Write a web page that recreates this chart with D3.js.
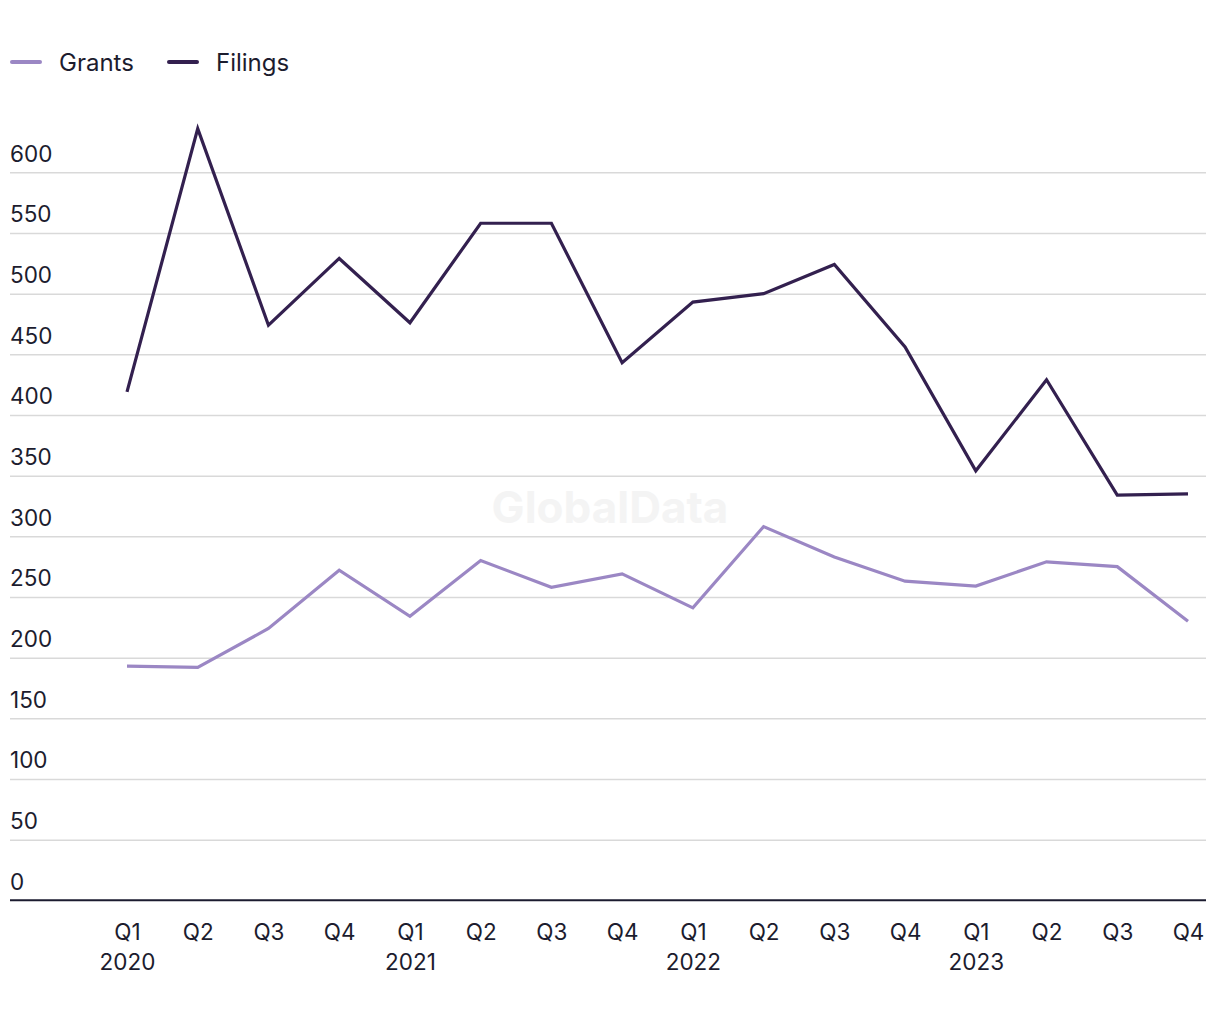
<!DOCTYPE html>
<html>
<head>
<meta charset="utf-8">
<script src="https://cdn.jsdelivr.net/npm/d3@7/dist/d3.min.js"></script>
<style>
  html, body { margin: 0; padding: 0; background: #ffffff; }
  svg { display: block; }
  text { font-family: Inter, "Noto Sans", "DejaVu Sans", sans-serif; }
</style>
</head>
<body>
<svg id="chart" width="1220" height="1020"></svg>
<script>
const quarters = ["Q1","Q2","Q3","Q4","Q1","Q2","Q3","Q4","Q1","Q2","Q3","Q4","Q1","Q2","Q3","Q4"];
const years    = ["2020","","","","2021","","","","2022","","","","2023","","",""];
const categories = quarters.map((q, i) => q + "-" + i);
const filings = [419, 636, 474, 529, 476, 558, 558, 443, 493, 500, 524, 456, 354, 429, 334, 335];
const grants  = [193, 192, 224, 272, 234, 280, 258, 269, 241, 308, 283, 263, 259, 279, 275, 230];
const yTicks = [0, 50, 100, 150, 200, 250, 300, 350, 400, 450, 500, 550, 600];
const seriesNames = ["Grants", "Filings"];
const seriesColors = ["#9b87c4", "#33204f"];

const svg = d3.select("#chart");
const textColor = "#1c1c2e";

const x = d3.scalePoint().domain(categories).range([127, 1188]);
const y = d3.scaleLinear().domain([0, 600]).range([900.3, 172.3]);

// watermark
svg.append("text")
  .attr("x", 610).attr("y", 523)
  .attr("text-anchor", "middle")
  .attr("font-size", 44).attr("font-weight", 700)
  .attr("fill", "#f4f4f4")
  .text("GlobalData");

// gridlines + y labels
const yAxis = d3.axisLeft(y).tickValues(yTicks).tickSize(0).tickFormat(d3.format("d"));
const gy = svg.append("g").call(yAxis);
gy.select(".domain").remove();
gy.selectAll(".tick text")
  .attr("x", 10).attr("dy", 0).attr("y", -11)
  .attr("text-anchor", "start")
  .attr("font-size", 22.5)
  .attr("fill", textColor);
gy.selectAll(".tick").filter(d => d !== 0).append("line")
  .attr("x1", 10).attr("x2", 1206)
  .attr("stroke", "#d9d9d9").attr("stroke-width", 1.5);

// baseline
svg.append("line")
  .attr("x1", 10).attr("x2", 1206)
  .attr("y1", y(0)).attr("y2", y(0))
  .attr("stroke", "#1b1b2f").attr("stroke-width", 2);

// x axis
const xAxis = d3.axisBottom(x).tickSize(0).tickFormat((d, i) => quarters[i]);
const gx = svg.append("g").attr("transform", `translate(0,${y(0)})`).call(xAxis);
gx.select(".domain").remove();
gx.selectAll(".tick text")
  .attr("y", 0).attr("dy", 0)
  .attr("font-size", 22.5)
  .attr("fill", textColor)
  .each(function(d, i) {
    const t = d3.select(this);
    t.text(null);
    t.append("tspan").attr("x", 0).attr("y", 40).text(quarters[i]);
    if (years[i]) t.append("tspan").attr("x", 0).attr("y", 70).text(years[i]);
  });

// lines
const line = d3.line().x((d, i) => x(categories[i])).y(d => y(d));
[grants, filings].forEach((s, k) => {
  svg.append("path")
    .datum(s)
    .attr("d", line)
    .attr("fill", "none")
    .attr("stroke", seriesColors[k])
    .attr("stroke-width", 3.2)
    .attr("stroke-linejoin", "miter");
});

// legend
const legendX = [11, 168];
seriesNames.forEach((n, k) => {
  const g = svg.append("g").attr("transform", `translate(${legendX[k]},62)`);
  g.append("line").attr("x1", 1).attr("x2", 29).attr("y1", 0).attr("y2", 0)
    .attr("stroke", seriesColors[k]).attr("stroke-width", 4).attr("stroke-linecap", "round");
  g.append("text").attr("x", 48).attr("y", 8.5)
    .attr("font-size", 24).attr("fill", textColor).text(n);
});
</script>
</body>
</html>
